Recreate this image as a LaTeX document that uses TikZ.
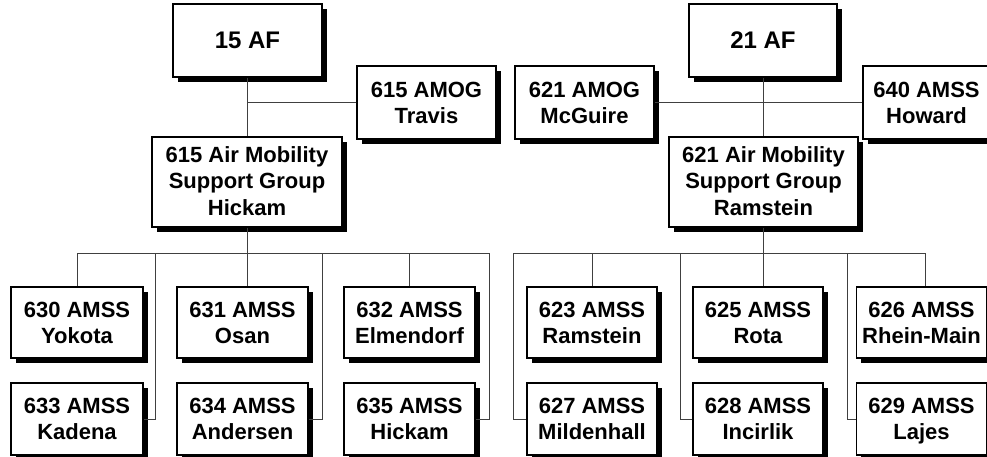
\documentclass[tikz,border=0pt]{standalone}
\usepackage{fontspec}
\setmainfont{Liberation Sans}
\begin{document}
\begin{tikzpicture}[x=1pt,y=-1pt,
  box/.style={draw=black, line width=1.5pt, fill=white, inner sep=0pt, align=center,
    font=\fontsize{22}{26.3}\selectfont\bfseries, text depth=0pt,
    preaction={draw=none, fill=black, transform canvas={shift={(4.5pt,-4.5pt)}}}},
  toprow/.style={text depth=-4pt},
  botrow/.style={text depth=-2pt},
  grp/.style={text depth=2pt},
  conn/.style={draw=black!75, line width=1pt}]
\useasboundingbox (0,0) rectangle (987,456);
\fill[white] (0,0) rectangle (987,456);
% ---------- junction coordinates ----------
\coordinate (lbusL) at (77,253);
\coordinate (lbusR) at (489,253);
\coordinate (lj1) at (155,253);
\coordinate (lj2) at (322,253);
\coordinate (lj3) at (489,253);
\coordinate (rbusL) at (513,253);
\coordinate (rbusR) at (925,253);
\coordinate (rj1) at (513,253);
\coordinate (rj2) at (680,253);
\coordinate (rj3) at (847,253);
% ---------- left tree ----------
\node[box, minimum width=149pt, minimum height=73pt, font=\fontsize{24}{28}\selectfont\bfseries] (af15) at (247.5,40.5) {15 AF};
\node[box, minimum width=139pt, minimum height=73pt] (amog615) at (426.5,102.5) {615 AMOG\\Travis};
\node[box, grp, minimum width=190pt, minimum height=90pt] (amsg615) at (247,182) {615 Air Mobility\\Support Group\\Hickam};
\node[box, toprow, minimum width=132pt, minimum height=71pt] (b630) at (77,322.5) {630 AMSS\\Yokota};
\node[box, toprow, minimum width=131pt, minimum height=71pt] (b631) at (242.5,322.5) {631 AMSS\\Osan};
\node[box, toprow, minimum width=131pt, minimum height=71pt] (b632) at (409.5,322.5) {632 AMSS\\Elmendorf};
\node[box, botrow, minimum width=132pt, minimum height=72pt] (b633) at (77,419) {633 AMSS\\Kadena};
\node[box, botrow, minimum width=131pt, minimum height=72pt] (b634) at (242.5,419) {634 AMSS\\Andersen};
\node[box, botrow, minimum width=131pt, minimum height=72pt] (b635) at (409.5,419) {635 AMSS\\Hickam};
% ---------- right tree ----------
\node[box, minimum width=148pt, minimum height=73pt, font=\fontsize{24}{28}\selectfont\bfseries] (af21) at (763,40.5) {21 AF};
\node[box, minimum width=139pt, minimum height=73pt] (amog621) at (584.5,102.5) {621 AMOG\\McGuire};
\node[box, minimum width=127pt, minimum height=73pt] (amss640) at (926.5,102.5) {640 AMSS\\Howard};
\node[box, grp, minimum width=189pt, minimum height=90pt] (amsg621) at (763.5,182) {621 Air Mobility\\Support Group\\Ramstein};
\node[box, toprow, minimum width=130pt, minimum height=71pt] (b623) at (592,322.5) {623 AMSS\\Ramstein};
\node[box, toprow, minimum width=130pt, minimum height=71pt] (b625) at (758,322.5) {625 AMSS\\Rota};
\node[box, toprow, minimum width=130pt, minimum height=71pt] (b626) at (921.5,322.5) {626 AMSS\\Rhein-Main};
\node[box, botrow, minimum width=130pt, minimum height=72pt] (b627) at (592,419) {627 AMSS\\Mildenhall};
\node[box, botrow, minimum width=130pt, minimum height=72pt] (b628) at (758,419) {628 AMSS\\Incirlik};
\node[box, botrow, minimum width=130pt, minimum height=72pt] (b629) at (921.5,419) {629 AMSS\\Lajes};
% ---------- left connectors ----------
\path[conn] (amsg615.north |- af15.south) -- (amsg615.north);
\path[conn] (amog615.west) -- (amsg615.north |- amog615.west);
\path[conn] (amsg615.south) -- (amsg615.south |- lbusL);
\path[conn] (lbusL) -- (lbusR);
\path[conn] (lbusL) -- (b630.north);
\path[conn] (amsg615.south |- lbusL) -- (amsg615.south |- b631.north);
\path[conn] (b632.north |- lbusL) -- (b632.north);
\path[conn] (b633.east) -| (lj1);
\path[conn] (b634.east) -| (lj2);
\path[conn] (b635.east) -| (lj3);
% ---------- right connectors ----------
\path[conn] (amsg621.north |- af21.south) -- (amsg621.north);
\path[conn] (amog621.east) -- (amss640.west);
\path[conn] (amsg621.south) -- (amsg621.south |- rbusL);
\path[conn] (rbusL) -- (rbusR);
\path[conn] (b623.north |- rbusL) -- (b623.north);
\path[conn] (amsg621.south |- rbusL) -- (amsg621.south |- b625.north);
\path[conn] (rbusR) -- (rbusR |- b626.north);
\path[conn] (b627.west) -| (rj1);
\path[conn] (b628.west) -| (rj2);
\path[conn] (b629.west) -| (rj3);
\end{tikzpicture}
\end{document}
